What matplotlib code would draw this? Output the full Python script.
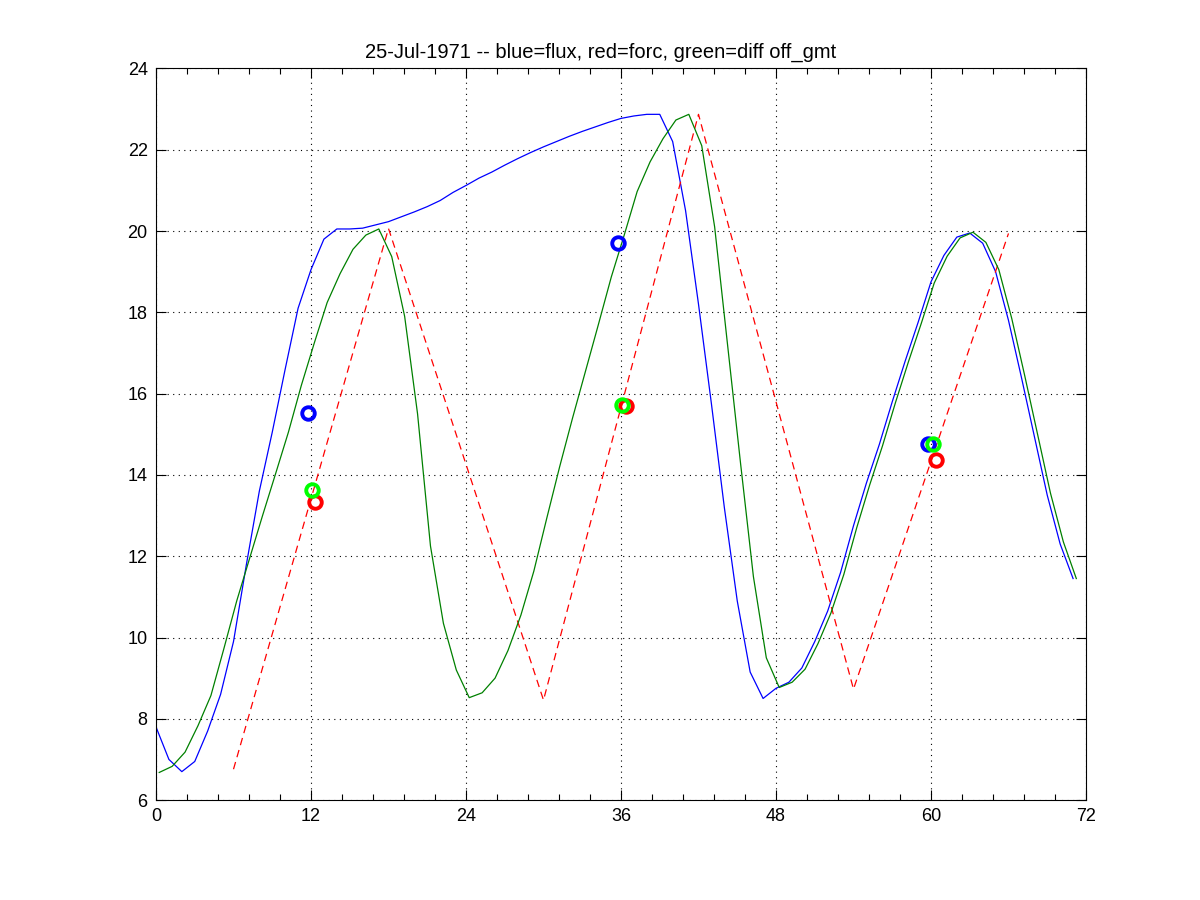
import numpy as np
import matplotlib
matplotlib.use("Agg")
import matplotlib.pyplot as plt
from matplotlib.ticker import MultipleLocator

plt.rcParams["font.family"] = ["Liberation Sans", "DejaVu Sans"]

# hourly series
hours = list(range(72))
flux = [7.8, 7.0, 6.7, 6.95, 7.7, 8.6, 9.9, 11.8, 13.6, 15.05,
        16.6, 18.1, 19.05, 19.8, 20.05, 20.05, 20.07, 20.15, 20.23, 20.35,
        20.47, 20.6, 20.75, 20.95, 21.12, 21.3, 21.45, 21.62, 21.78, 21.93,
        22.07, 22.2, 22.33, 22.45, 22.56, 22.67, 22.77, 22.83, 22.87, 22.87,
        22.2, 20.5, 18.2, 15.75, 13.2, 10.9, 9.15, 8.5, 8.75, 8.9,
        9.25, 9.9, 10.65, 11.6, 12.75, 13.8, 14.75, 15.8, 16.8, 17.75,
        18.75, 19.4, 19.85, 19.95, 19.7, 19.0, 17.8, 16.4, 14.95, 13.5,
        12.3, 11.45]

# diff series is sampled a quarter hour later (off_gmt)
diff_offset = 0.25
diff = [6.68, 6.83, 7.18, 7.83, 8.57, 9.72, 10.9, 11.95, 13.0, 14.02,
        15.05, 16.2, 17.24, 18.24, 18.95, 19.55, 19.9, 20.05, 19.37, 17.9,
        15.5, 12.25, 10.35, 9.2, 8.52, 8.64, 9.0, 9.68, 10.55, 11.63,
        12.93, 14.2, 15.4, 16.55, 17.7, 18.87, 19.9, 20.97, 21.7, 22.27,
        22.73, 22.87, 22.1, 20.1, 17.2, 14.3, 11.5, 9.5, 8.77, 8.9,
        9.22, 9.85, 10.6, 11.55, 12.7, 13.75, 14.72, 15.78, 16.78, 17.73,
        18.72, 19.38, 19.83, 19.97, 19.72, 19.05, 17.85, 16.45, 15.0, 13.55,
        12.35, 11.45]
diff_hours = [h + diff_offset for h in hours]

forc_hours = [6, 18, 30, 42, 54, 66]
forc = [6.76, 20.06, 8.46, 22.87, 8.73, 19.94]

# daily mean markers
flux_mark_x = [11.8, 35.8, 59.8]
flux_mark_y = [15.52, 19.7, 14.75]
diff_mark_x = [12.1, 36.1, 60.15]
diff_mark_y = [13.62, 15.71, 14.75]
forc_mark_x = [12.3, 36.35, 60.4]
forc_mark_y = [13.33, 15.69, 14.36]

fig = plt.figure(figsize=(12, 9), dpi=100)
ax = fig.add_axes([0.13, 0.111, 0.775, 0.813])

ax.plot(hours, flux, color="#0000ff", linewidth=0.9)
ax.plot(forc_hours, forc, color="#ff0000", linewidth=0.9, linestyle=(0, (6, 4)))
ax.plot(diff_hours, diff, color="#008000", linewidth=0.9)

ms = 9
mew = 2.8
ax.plot(flux_mark_x, flux_mark_y, "o", mfc="none", mec="#0000ff", ms=ms, mew=mew)
ax.plot(forc_mark_x, forc_mark_y, "o", mfc="none", mec="#ff0000", ms=ms, mew=mew)
ax.plot(diff_mark_x, diff_mark_y, "o", mfc="none", mec="#00ff00", ms=ms, mew=mew)

ax.set_xlim(0, 72)
ax.set_ylim(6, 24)
ax.set_xticks([0, 12, 24, 36, 48, 60, 72])
ax.xaxis.set_minor_locator(MultipleLocator(2.4))
ax.set_yticks(np.arange(6, 25, 2))
ax.grid(True, which="major", color="black", linestyle=(0, (1, 4)), linewidth=0.8)
ax.tick_params(which="major", direction="in", length=7, top=True, right=True,
               labelsize=13, pad=6)
ax.tick_params(which="minor", axis="x", direction="in", length=4, width=0.8, top=True)
for s in ax.spines.values():
    s.set_linewidth(0.8)

ax.set_title("25-Jul-1971 -- blue=flux, red=forc, green=diff off_gmt",
             fontsize=14.5, pad=8, x=0.478)

fig.savefig("out.png", dpi=100)
